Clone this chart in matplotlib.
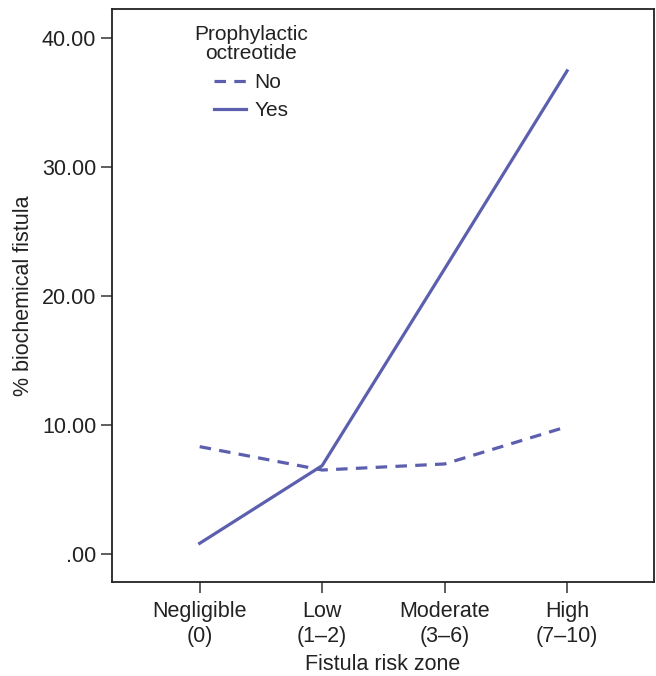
import matplotlib
matplotlib.use("Agg")
import matplotlib.pyplot as plt

# risk zones on the x axis
zones = ["Negligible\n(0)", "Low\n(1\u20132)", "Moderate\n(3\u20136)", "High\n(7\u201310)"]
# % biochemical fistula per zone
no_octreotide = [8.32, 6.51, 6.98, 9.87]
yes_octreotide = [0.83, 6.85, 22.1, 37.44]
ytick_values = [0, 10, 20, 30, 40]
ytick_labels = [".00", "10.00", "20.00", "30.00", "40.00"]

LINE_COLOR = "#5b5fae"
TEXT_COLOR = "#222222"
plt.rcParams["font.family"] = ["Liberation Sans", "DejaVu Sans"]

fig = plt.figure(figsize=(6.56, 6.76), dpi=100)
ax = fig.add_axes([0.170, 0.139, 0.827, 0.848])

x = list(range(len(zones)))
ax.plot(x, no_octreotide, color=LINE_COLOR, lw=2.3, linestyle=(0, (3.6, 2.6)),
        label="No")
ax.plot(x, yes_octreotide, color=LINE_COLOR, lw=2.3, label="Yes")

ax.set_xlim(-0.72, 3.71)
ax.set_ylim(-2.17, 42.25)
ax.set_xticks(x)
ax.set_xticklabels(zones, fontsize=15.5, color=TEXT_COLOR, linespacing=1.25)
ax.set_yticks(ytick_values)
ax.set_yticklabels(ytick_labels, fontsize=15.5, color=TEXT_COLOR)
ax.tick_params(length=8, width=1.1, color="#333333", pad=3)
ax.tick_params(axis="x", pad=6)
for s in ax.spines.values():
    s.set_linewidth(1.3)
    s.set_color(TEXT_COLOR)

ax.set_xlabel("Fistula risk zone", fontsize=15.5, color=TEXT_COLOR, labelpad=5)
ax.set_ylabel("% biochemical fistula", fontsize=15.5, color=TEXT_COLOR, labelpad=6)

leg = ax.legend(title="Prophylactic\noctreotide", loc="upper left",
                bbox_to_anchor=(0.122, 1.0), frameon=False, fontsize=15,
                title_fontsize=15, handlelength=1.55, handletextpad=0.4,
                labelspacing=0.45, borderaxespad=0.4)
leg.get_title().set_multialignment("center")
leg.get_title().set_linespacing(1.0)
for t in leg.get_texts():
    t.set_color(TEXT_COLOR)
leg.get_title().set_color(TEXT_COLOR)

fig.savefig("out.png", dpi=100)
